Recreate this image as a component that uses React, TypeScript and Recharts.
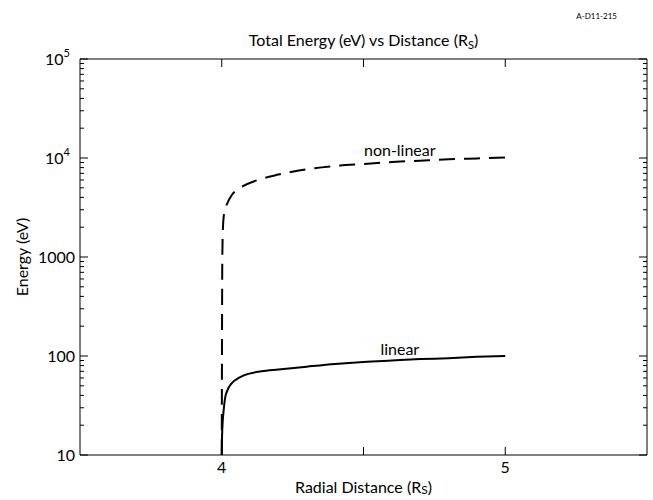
import React from "react";
import { LineChart, Line, XAxis, YAxis, ReferenceDot, Label } from "recharts";

const W = 653;
const H = 500;
const FONT = "Lato, 'Open Sans', sans-serif";
const INK = "#000";

// linear model: energy (eV) vs radial distance (Rs)
const linearR = [4.0, 4.001, 4.003, 4.006, 4.012, 4.02, 4.035, 4.06, 4.08, 4.14, 4.2, 4.3, 4.4, 4.5, 4.6, 4.7, 4.8, 4.9, 5.0];
const linearE = [10, 15, 21, 27, 38, 45, 53, 60, 64, 70, 73, 78, 83, 87, 90, 93, 95, 98, 100];

// non-linear model
const nonLinearR = [4.0, 4.002, 4.004, 4.006, 4.01, 4.02, 4.035, 4.07, 4.12, 4.2, 4.3, 4.4, 4.5, 4.6, 4.7, 4.8, 4.9, 5.0];
const nonLinearE = [10, 1000, 1900, 2400, 2900, 3500, 4200, 5100, 5900, 6800, 7700, 8300, 8700, 9100, 9400, 9700, 9900, 10100];

const xTicks = [4, 4.5, 5];
const xLabelled = [4, 5];
const yMajor = [10, 100, 1000, 10000, 100000];
const yMinorSteps = [1, 2, 3, 4, 5, 6, 7, 8, 9];
const yTicks = yMajor
  .slice(0, -1)
  .flatMap((d) => yMinorSteps.map((k) => d * k))
  .concat([100000]);

const linearData = linearR.map((r, i) => ({ r, e: linearE[i] }));
const nonLinearData = nonLinearR.map((r, i) => ({ r, e: nonLinearE[i] }));

function yLabel(v: number, x: number, y: number) {
  const common = { fill: INK, fontFamily: FONT, fontSize: 16, textAnchor: "end" as const };
  if (v >= 10000) {
    return (
      <text x={x - 10} y={y} dy={6} {...common}>
        10<tspan fontSize={11} dy={-8}>{Math.round(Math.log10(v))}</tspan>
      </text>
    );
  }
  return (
    <text x={x - 5} y={y} dy={6} {...common}>
      {v}
    </text>
  );
}

function LeftTick(props: any) {
  const { x, y, payload } = props;
  const major = yMajor.includes(payload.value);
  const len = major ? 8 : 4;
  return (
    <g>
      <line x1={x} x2={x + len} y1={y} y2={y} stroke={INK} strokeWidth={1} />
      {major && yLabel(payload.value, x, y)}
    </g>
  );
}

function RightTick(props: any) {
  const { x, y, payload } = props;
  const major = yMajor.includes(payload.value);
  const len = major ? 8 : 4;
  return <line x1={x - len} x2={x} y1={y} y2={y} stroke={INK} strokeWidth={1} />;
}

function BottomTick(props: any) {
  const { x, y, payload } = props;
  return (
    <g>
      <line x1={x} x2={x} y1={y} y2={y - 8} stroke={INK} strokeWidth={1} />
      {xLabelled.includes(payload.value) && (
        <text x={x} y={y + 18} textAnchor="middle" fill={INK} fontFamily={FONT} fontSize={16}>
          {payload.value}
        </text>
      )}
    </g>
  );
}

function TopTick(props: any) {
  const { x, y } = props;
  return <line x1={x} x2={x} y1={y} y2={y + 8} stroke={INK} strokeWidth={1} />;
}

function TitleLabel(props: any) {
  const vb = props.viewBox;
  const cx = vb.x + vb.width / 2;
  return (
    <g>
      <text x={cx} y={46} textAnchor="middle" fill={INK} fontFamily={FONT} fontSize={16}>
        Total Energy (eV) vs Distance (R<tspan fontSize={11} dy={3}>S</tspan>
        <tspan dy={-3}>)</tspan>
      </text>
      <text x={vb.x + vb.width - 30} y={19} textAnchor="end" fill={INK} fontFamily={FONT} fontSize={8}>
        A-D11-215
      </text>
    </g>
  );
}

function XTitle(props: any) {
  const vb = props.viewBox;
  return (
    <text x={vb.x + vb.width / 2} y={vb.y + vb.height + 8} textAnchor="middle" fill={INK} fontFamily={FONT} fontSize={16}>
      Radial Distance (R<tspan fontSize={12} dy={1}>S</tspan>
      <tspan dy={-1}>)</tspan>
    </text>
  );
}

function YTitle(props: any) {
  const vb = props.viewBox;
  const cx = vb.x + 8;
  const cy = vb.y + vb.height / 2;
  return (
    <text x={cx} y={cy} textAnchor="middle" fill={INK} fontFamily={FONT} fontSize={16} transform={`rotate(-90 ${cx} ${cy})`}>
      Energy (eV)
    </text>
  );
}

export default function App() {
  return (
    <div style={{ position: "absolute", left: 0, top: 0, width: W, height: H, background: "#fff" }}>
      <LineChart width={W} height={H} margin={{ top: 58, right: 5, bottom: 15, left: 20 }}>
        <XAxis
          dataKey="r"
          type="number"
          domain={[3.5, 5.5]}
          allowDataOverflow
          ticks={xTicks}
          interval={0}
          height={30}
          tickSize={0}
          tickMargin={0}
          tick={<BottomTick />}
          axisLine={{ stroke: INK, strokeWidth: 1 }}
          tickLine={false}
        >
          <Label content={<XTitle />} />
        </XAxis>
        <XAxis
          xAxisId="top"
          orientation="top"
          dataKey="r"
          type="number"
          domain={[3.5, 5.5]}
          allowDataOverflow
          ticks={xTicks}
          interval={0}
          height={1}
          tickSize={0}
          tickMargin={0}
          tick={<TopTick />}
          axisLine={{ stroke: INK, strokeWidth: 1 }}
          tickLine={false}
        >
          <Label content={<TitleLabel />} />
        </XAxis>
        <YAxis
          type="number"
          scale="log"
          domain={[10, 100000]}
          allowDataOverflow
          ticks={yTicks}
          interval={0}
          width={60}
          tickSize={0}
          tickMargin={0}
          tick={<LeftTick />}
          axisLine={{ stroke: INK, strokeWidth: 1 }}
          tickLine={false}
        >
          <Label content={<YTitle />} />
        </YAxis>
        <YAxis
          yAxisId="right"
          orientation="right"
          type="number"
          scale="log"
          domain={[10, 100000]}
          allowDataOverflow
          ticks={yTicks}
          interval={0}
          width={1}
          tickSize={0}
          tickMargin={0}
          tick={<RightTick />}
          axisLine={{ stroke: INK, strokeWidth: 1 }}
          tickLine={false}
        />
        <Line
          data={nonLinearData}
          dataKey="e"
          type="monotone"
          stroke={INK}
          strokeWidth={2}
          strokeDasharray="16 9"
          dot={false}
          activeDot={false}
          isAnimationActive={false}
        />
        {/* the linear curve is plotted against the mirrored (top/right) axes, which share the same domains */}
        <Line
          data={linearData}
          xAxisId="top"
          yAxisId="right"
          dataKey="e"
          type="monotone"
          stroke={INK}
          strokeWidth={2}
          dot={false}
          activeDot={false}
          isAnimationActive={false}
        />
        <ReferenceDot
          x={4.628}
          y={12050}
          r={0}
          fill="none"
          stroke="none"
          label={{ value: "non-linear", position: "center", fill: INK, fontFamily: FONT, fontSize: 16 }}
        />
        <ReferenceDot
          x={4.628}
          y={118}
          r={0}
          fill="none"
          stroke="none"
          label={{ value: "linear", position: "center", fill: INK, fontFamily: FONT, fontSize: 16 }}
        />
      </LineChart>
    </div>
  );
}
